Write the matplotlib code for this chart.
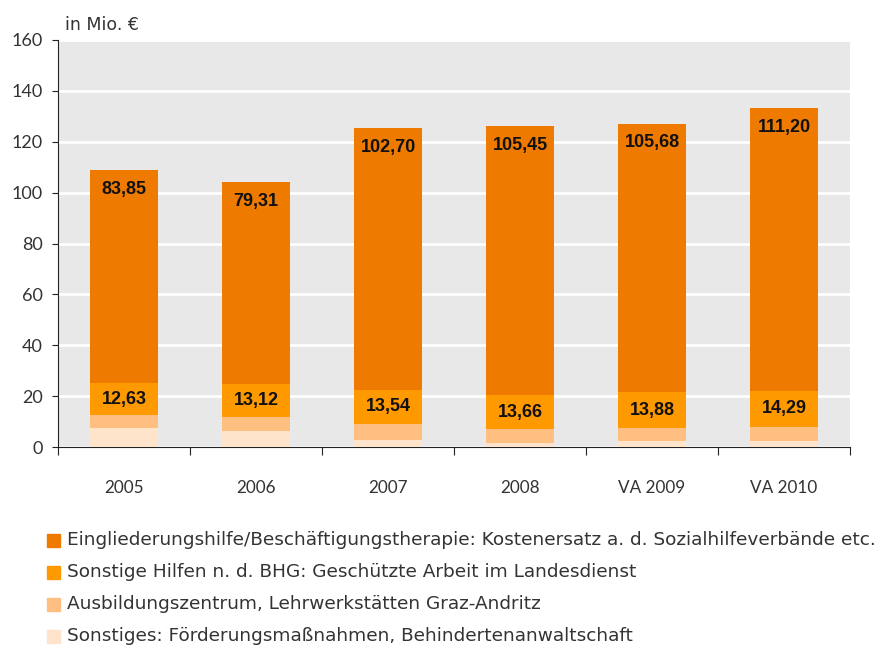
import matplotlib
matplotlib.use("Agg")
import matplotlib.pyplot as plt
import numpy as np
from matplotlib.patches import Rectangle

categories = ["2005", "2006", "2007", "2008", "VA 2009", "VA 2010"]
sonstiges = [7.6, 6.2, 2.8, 1.4, 2.2, 2.3]
ausbildung = [4.8, 5.5, 6.2, 5.5, 5.4, 5.5]
sonstige_hilfen = [12.63, 13.12, 13.54, 13.66, 13.88, 14.29]
eingliederung = [83.85, 79.31, 102.70, 105.45, 105.68, 111.20]
yticks = [0, 20, 40, 60, 80, 100, 120, 140, 160]

series_names = [
    "Eingliederungshilfe/Beschäftigungstherapie: Kostenersatz a. d. Sozialhilfeverbände etc.",
    "Sonstige Hilfen n. d. BHG: Geschützte Arbeit im Landesdienst",
    "Ausbildungszentrum, Lehrwerkstätten Graz-Andritz",
    "Sonstiges: Förderungsmaßnahmen, Behindertenanwaltschaft",
]
colors = ["#EF7A00", "#FF9900", "#FFBF80", "#FFE4CC"]

fig = plt.figure(figsize=(8.93, 6.49), dpi=100)
ax = fig.add_axes([58 / 893, 1 - 447 / 649, (850 - 58) / 893, (447 - 40) / 649])
ax.set_facecolor("#E8E8E8")

x = np.arange(len(categories))
w = 0.52
b0 = np.zeros(len(x))
ax.bar(x, sonstiges, w, bottom=b0, color=colors[3], zorder=3)
b1 = b0 + np.array(sonstiges)
ax.bar(x, ausbildung, w, bottom=b1, color=colors[2], zorder=3)
b2 = b1 + np.array(ausbildung)
ax.bar(x, sonstige_hilfen, w, bottom=b2, color=colors[1], zorder=3)
b3 = b2 + np.array(sonstige_hilfen)
ax.bar(x, eingliederung, w, bottom=b3, color=colors[0], zorder=3)
top = b3 + np.array(eingliederung)

fmt = lambda v: f"{v:.2f}".replace(".", ",")
for i in range(len(x)):
    ax.text(x[i], b2[i] + sonstige_hilfen[i] / 2, fmt(sonstige_hilfen[i]), ha="center", va="center",
            fontsize=13, fontweight="bold", family="Liberation Sans", color="#111111", zorder=4)
    ax.text(x[i], top[i] - 7.5, fmt(eingliederung[i]), ha="center", va="center",
            fontsize=13, fontweight="bold", family="Liberation Sans", color="#111111", zorder=4)

ax.set_xlim(-0.5, len(x) - 0.5)
ax.set_ylim(0, 160)
ax.set_yticks(yticks)
ax.set_yticklabels([str(t) for t in yticks], fontsize=13, color="#333333", family="Lato")
ax.yaxis.grid(True, color="white", linewidth=2, zorder=1)
ax.set_axisbelow(True)
for s in ["top", "right"]:
    ax.spines[s].set_visible(False)
ax.spines["left"].set_color("#222222")
ax.spines["bottom"].set_color("#222222")
ax.tick_params(axis="y", length=4, color="#222222", pad=7)
ax.set_xticks(np.arange(-0.5, len(x), 1.0), minor=False)
ax.set_xticklabels([])
ax.set_xticks(x, minor=True)
ax.set_xticklabels(categories, minor=True, fontsize=12.3, color="#333333", family="Lato")
ax.tick_params(axis="x", which="major", length=6, color="#222222")
ax.tick_params(axis="x", which="minor", length=0, pad=24)

fig.text(65 / 893, 1 - 25 / 649, "in Mio. €", fontsize=12.5, color="#333333", va="center")

ys = [540, 572, 604, 636]
for name, c, yy in zip(series_names, colors, ys):
    fig.patches.append(Rectangle((47 / 893, 1 - (yy + 7) / 649), 13 / 893, 13 / 649,
                                 transform=fig.transFigure, color=c, figure=fig))
    fig.text(67 / 893, 1 - yy / 649, name, fontsize=13.3, color="#333333", va="center")

fig.savefig("out.png", dpi=100)
